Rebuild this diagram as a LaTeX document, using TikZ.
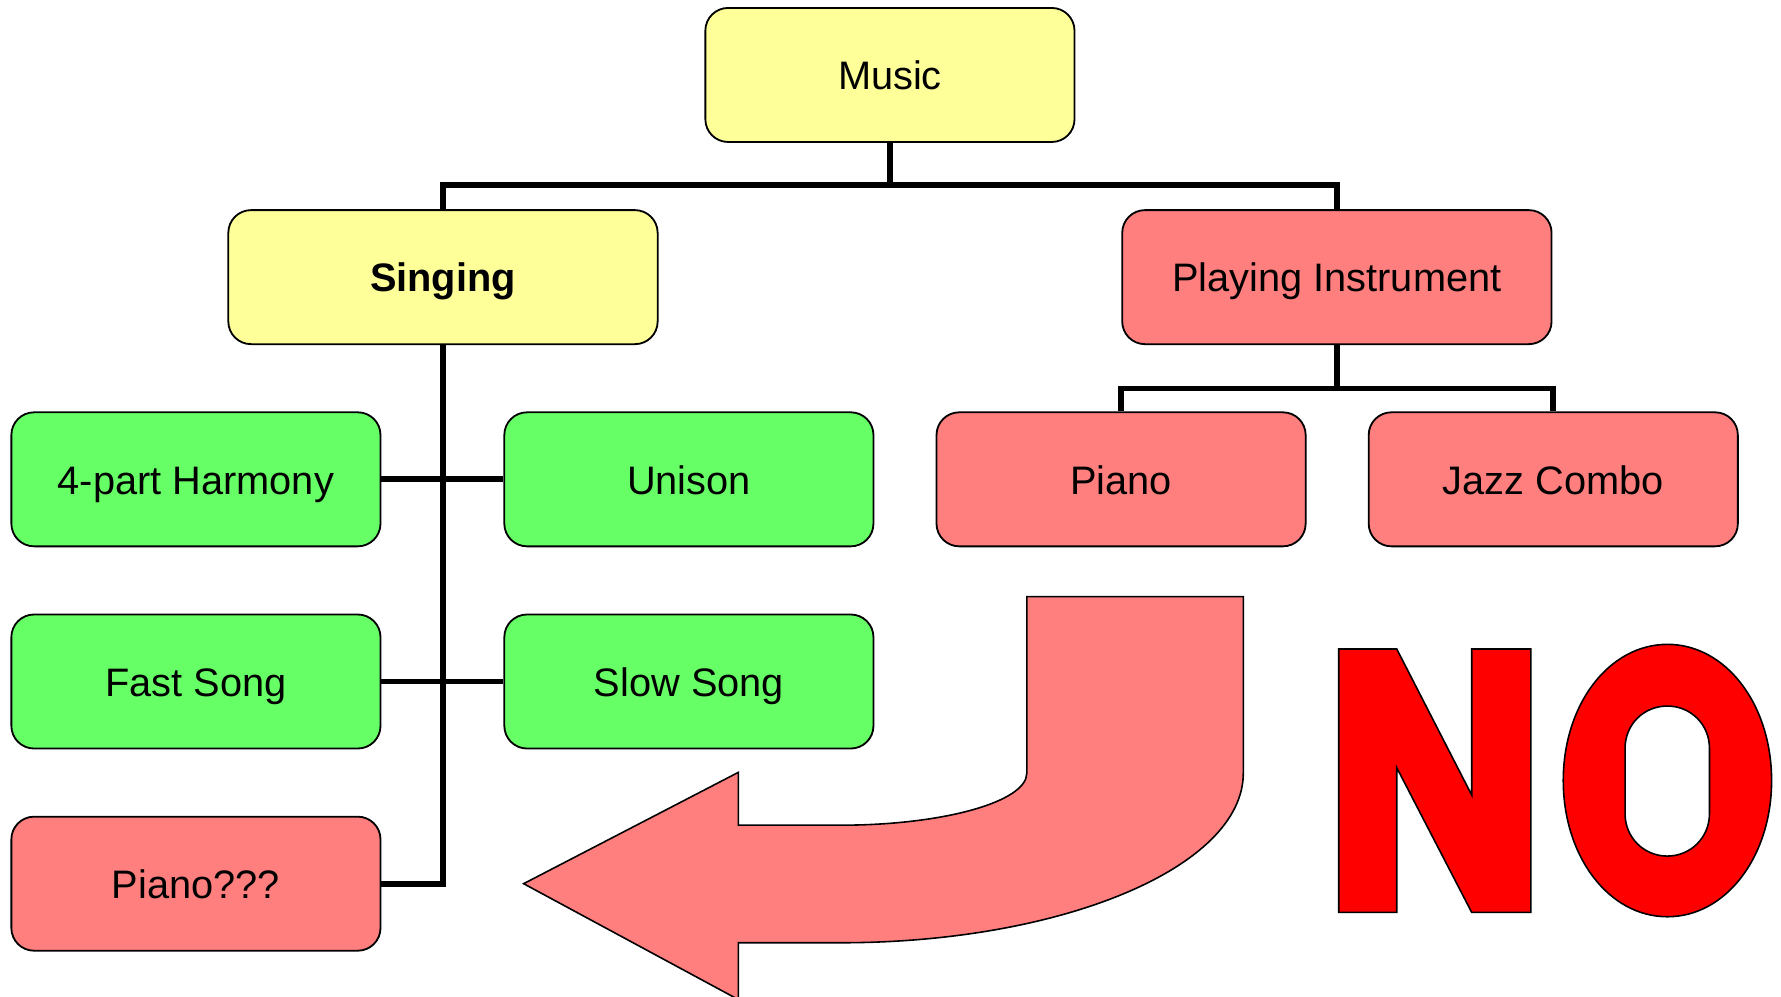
\documentclass[tikz,border=0pt]{standalone}
\usepackage{fontspec}
\setmainfont{Liberation Sans}
\begin{document}
\begin{tikzpicture}[x=1pt,y=-1pt,
  box/.style={draw=black,line width=1.6pt,rounded corners=20pt,minimum width=325pt,minimum height=118pt,inner sep=0pt,text height=30pt,text depth=4pt,font=\fontsize{35}{42}\selectfont},
  wide/.style={box,minimum width=378pt},
  yel/.style={fill=yellowbox},
  grn/.style={fill=greenbox},
  pnk/.style={fill=pinkbox},
  conn/.style={draw=black,line width=5pt},
  shapeline/.style={draw=black,line width=1.4pt,line join=miter}]
\definecolor{yellowbox}{RGB}{255,255,153}
\definecolor{greenbox}{RGB}{102,255,102}
\definecolor{pinkbox}{RGB}{255,127,127}
\definecolor{nored}{RGB}{255,0,0}
\useasboundingbox (0,0) rectangle (1568,876.9);
% nodes
\node[box,yel] (music) at (783.5,66) {Music};
\node[wide,yel,font=\fontsize{35}{42}\selectfont\bfseries] (singing) at (390,244) {Singing};
\node[wide,pnk] (play) at (1177,244) {Playing Instrument};
\node[box,grn] (harm) at (172.5,422) {4-part Harmony};
\node[box,grn] (unison) at (606.5,422) {Unison};
\node[box,pnk] (piano) at (987,422) {Piano};
\node[box,pnk] (jazz) at (1367.5,422) {Jazz Combo};
\node[box,grn] (fast) at (172.5,600) {Fast Song};
\node[box,grn] (slow) at (606.5,600) {Slow Song};
\node[box,pnk] (pq) at (172.5,778) {Piano???};
% connectors
\coordinate (j1) at (783.5,165);
\draw[conn] (music.south) -- (j1);
\draw[conn] (singing.north) |- (783.5,163) -| (play.north);
\draw[conn] (singing.south) |- (pq.east);
\draw[conn] (harm.east) -- (unison.west);
\draw[conn] (fast.east) -- (slow.west);
\coordinate (j2) at (1177,342);
\draw[conn] (play.south) -- (j2);
\draw[conn] (piano.north) |- (j2) -| (jazz.north);
% big curved arrow
\fill[pinkbox] (904,525.3) -- (1094.6,525.3) -- (1094.6,680.7)
  .. controls (1094.6,763) and (936,830) .. (740,830)
  -- (650,830) -- (650,880) -- (461,778) -- (650,680) -- (650,726.5) -- (740,726.5)
  .. controls (830,726.5) and (904,706) .. (904,680.7) -- cycle;
\draw[shapeline] (650,880) -- (650,830) -- (740,830)
  .. controls (936,830) and (1094.6,763) .. (1094.6,680.7)
  -- (1094.6,525.3) -- (904,525.3) -- (904,680.7)
  .. controls (904,706) and (830,726.5) .. (740,726.5)
  -- (650,726.5) -- (650,680) -- (461,778) -- (650,880);
% NO
\path[fill=nored,shapeline] (1178.6,571.4) -- (1229.7,571.4) -- (1295.7,700) -- (1295.7,571.4)
  -- (1347.7,571.4) -- (1347.7,803.3) -- (1295.7,803.3) -- (1229.7,675.9)
  -- (1229.7,803.3) -- (1178.6,803.3) -- cycle;
\path[fill=nored,shapeline,even odd rule]
  (1559.7,687.2) .. controls (1559.7,754.3) and (1519.4,807.1) .. (1468,807.1)
  .. controls (1416.6,807.1) and (1376.3,754.3) .. (1376.3,687.2)
  .. controls (1376.3,620.1) and (1416.6,567.3) .. (1468,567.3)
  .. controls (1519.4,567.3) and (1559.7,620.1) .. (1559.7,687.2) -- cycle
  (1430.7,658.7) -- (1430.7,716.6) .. controls (1430.7,737) and (1447,753.7) .. (1467.85,753.7)
  .. controls (1488.7,753.7) and (1505,737) .. (1505,716.6) -- (1505,658.7)
  .. controls (1505,638) and (1488.7,621.6) .. (1467.85,621.6)
  .. controls (1447,621.6) and (1430.7,638) .. (1430.7,658.7) -- cycle;
\end{tikzpicture}
\end{document}
